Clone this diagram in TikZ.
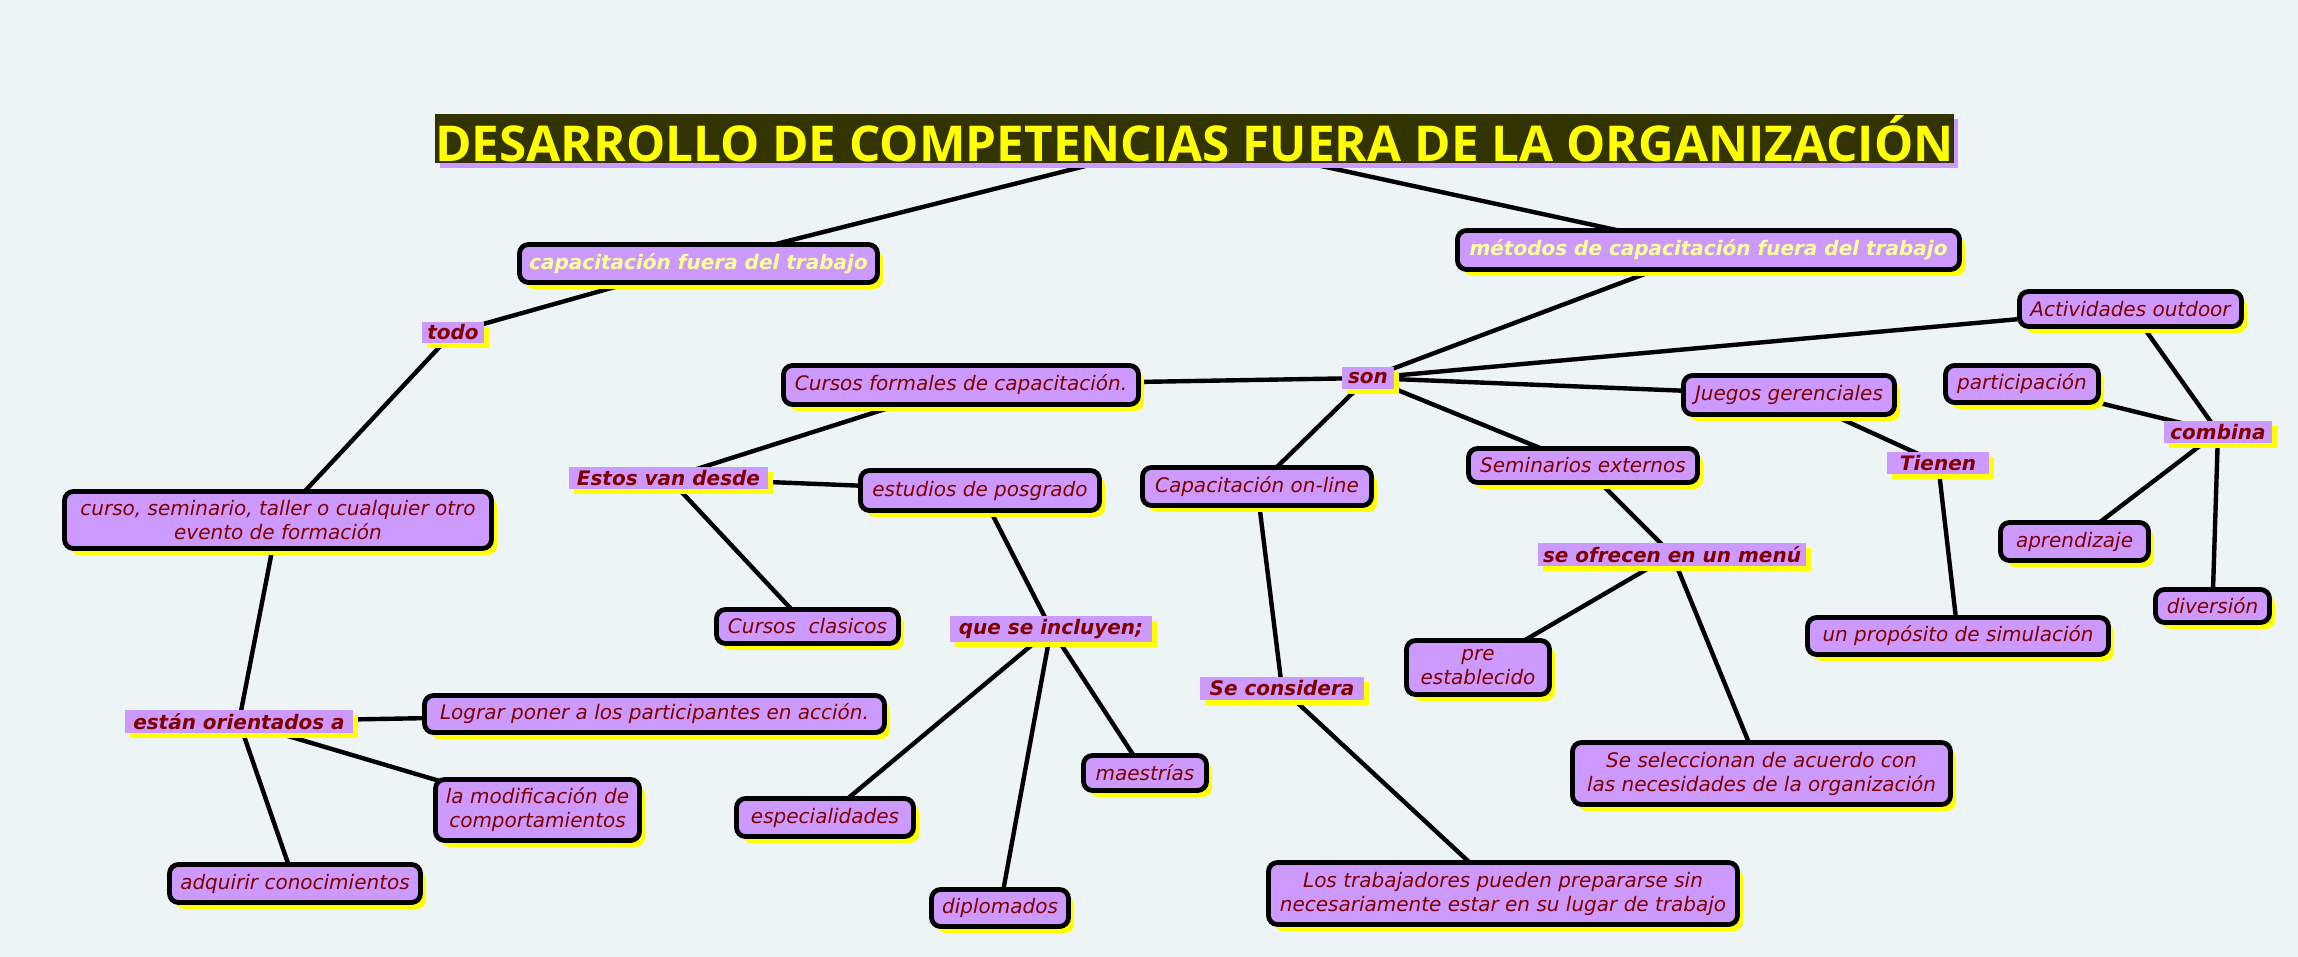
\documentclass[tikz,border=0pt]{standalone}
\usepackage{fontspec}
\setmainfont{DejaVu Sans}
\newfontfamily\titlefont{Open Sans}
\usetikzlibrary{shadows}
\definecolor{bgcol}{RGB}{237,244,246}
\definecolor{boxpurple}{RGB}{204,153,255}
\definecolor{textred}{RGB}{128,0,0}
\definecolor{shyellow}{RGB}{255,255,0}
\definecolor{titlebg}{RGB}{51,51,0}
\definecolor{lightyellow}{RGB}{255,255,153}
\definecolor{titleyellow}{RGB}{255,255,0}
\pgfdeclarelayer{background}
\pgfsetlayers{background,main}
\tikzset{
  box/.style={draw=black, line width=2.4pt, rounded corners=4.5pt, fill=boxpurple,
    text=textred, font=\itshape\fontsize{10}{12}\selectfont, align=center, inner sep=0pt,
    drop shadow={shadow xshift=2.8pt, shadow yshift=-3.2pt, fill=shyellow, opacity=1}},
  hbox/.style={box, text=lightyellow, font=\bfseries\itshape\fontsize{10}{12}\selectfont},
  linkph/.style={fill=boxpurple, text=textred, font=\bfseries\itshape\fontsize{10}{12}\selectfont,
    inner sep=0pt, align=center,
    drop shadow={shadow xshift=2.3pt, shadow yshift=-2.5pt, fill=shyellow, opacity=1}},
  titlebox/.style={fill=titlebg, text=titleyellow, inner sep=0pt,
    font=\titlefont\bfseries\fontsize{24.7}{28}\selectfont,
    drop shadow={shadow xshift=2.2pt, shadow yshift=-2.4pt, fill=boxpurple, opacity=1}},
  conn/.style={line width=2.2pt, draw=black},
}
\begin{document}
\begin{tikzpicture}[x=0.5pt,y=-0.5pt]
\useasboundingbox (0,0) rectangle (2298,957);
\begin{pgfonlayer}{background}
\fill[bgcol] (0,0) rectangle (2298,957);
\end{pgfonlayer}

% title
\node[titlebox, minimum width=756.5pt, minimum height=24.5pt] (title) at (1194.5,138.5)
  {DESARROLLO DE COMPETENCIAS FUERA DE LA ORGANIZACIÓN};

% left branch
\node[hbox, minimum width=179pt, minimum height=19pt] (cap) at (698.5,263.5) {capacitación fuera del trabajo};
\node[linkph, minimum width=31pt, minimum height=10.5pt] (todo) at (453,332.5) {todo};
\node[box, minimum width=213.5pt, minimum height=28.5pt] (curso) at (278,520)
  {curso, seminario, taller o cualquier otro\\evento de formación};
\node[linkph, minimum width=114pt, minimum height=11.5pt] (estan) at (239,721.5) {están orientados a};
\node[box, minimum width=230pt, minimum height=18.5pt] (lograr) at (654.5,714) {Lograr poner a los participantes en acción.};
\node[box, minimum width=102pt, minimum height=30.5pt] (modif) at (537.5,810) {la modificación de\\comportamientos};
\node[box, minimum width=125.5pt, minimum height=19pt] (adq) at (295,883.5) {adquirir conocimientos};

% right branch
\node[hbox, minimum width=251pt, minimum height=19.5pt] (met) at (1708.5,250) {métodos de capacitación fuera del trabajo};
\node[linkph, minimum width=26pt, minimum height=11pt] (son) at (1368,378) {son};
\node[box, minimum width=177.5pt, minimum height=19.5pt] (formales) at (961,385) {Cursos formales de capacitación.};
\node[linkph, minimum width=99.5pt, minimum height=11pt] (estos) at (668.5,478) {Estos van desde};
\node[box, minimum width=119.5pt, minimum height=20pt] (estudios) at (980,490.5) {estudios de posgrado};
\node[box, minimum width=91pt, minimum height=17pt] (clasicos) at (807.5,626.5) {Cursos\ \ clasicos};
\node[linkph, minimum width=101pt, minimum height=13pt] (queinc) at (1051,629) {que se incluyen;};
\node[box, minimum width=88.5pt, minimum height=19pt] (espec) at (825,817.5) {especialidades};
\node[box, minimum width=61.5pt, minimum height=17.5pt] (maest) at (1145,773) {maestrías};
\node[box, minimum width=68.5pt, minimum height=18.5pt] (diplo) at (1000,908) {diplomados};

\node[box, minimum width=114.5pt, minimum height=19pt] (online) at (1257,486.5) {Capacitación on-line};
\node[linkph, minimum width=82pt, minimum height=11.5pt] (consid) at (1282,688.5) {Se considera};
\node[box, minimum width=234.5pt, minimum height=31pt] (trab) at (1503,893.5)
  {Los trabajadores pueden prepararse sin\\necesariamente estar en su lugar de trabajo};

\node[box, minimum width=114.5pt, minimum height=17pt] (semext) at (1583,465.5) {Seminarios externos};
\node[linkph, minimum width=134pt, minimum height=11.5pt] (ofrecen) at (1672,554.5) {se ofrecen en un menú};
\node[box, minimum width=71.5pt, minimum height=27pt] (pre) at (1478,667.5) {pre\\establecido};
\node[box, minimum width=189pt, minimum height=31pt] (selecc) at (1761.5,773.5)
  {Se seleccionan de acuerdo con\\las necesidades de la organización};

\node[box, minimum width=105.5pt, minimum height=19.5pt] (juegos) at (1789,395) {Juegos gerenciales};
\node[linkph, minimum width=51pt, minimum height=11pt] (tienen) at (1938,463) {Tienen};
\node[box, minimum width=150.5pt, minimum height=18.5pt] (prop) at (1958,636) {un propósito de simulación};

\node[box, minimum width=111pt, minimum height=17.5pt] (activ) at (2130.5,309) {Actividades outdoor};
\node[box, minimum width=76.5pt, minimum height=18.5pt] (partic) at (2022,384) {participación};
\node[linkph, minimum width=54pt, minimum height=11pt] (combina) at (2218,432) {combina};
\node[box, minimum width=74pt, minimum height=19pt] (aprend) at (2074.5,541.5) {aprendizaje};
\node[box, minimum width=57pt, minimum height=16.5pt] (divers) at (2212.5,606) {diversión};

% connectors (centre to centre, behind the nodes)
\begin{pgfonlayer}{background}
\draw[conn] (title.center) -- (cap.center);
\draw[conn] (title.center) -- (met.center);
\draw[conn] (cap.center) -- (todo.center);
\draw[conn] (todo.center) -- (curso.center);
\draw[conn] (curso.center) -- (estan.center);
\draw[conn] (estan.center) -- (lograr.center);
\draw[conn] (estan.center) -- (modif.center);
\draw[conn] (estan.center) -- (adq.center);
\draw[conn] (met.center) -- (son.center);
\draw[conn] (formales.center) -- (son.center);
\draw[conn] (formales.center) -- (estos.center);
\draw[conn] (estos.center) -- (estudios.center);
\draw[conn] (estos.center) -- (clasicos.center);
\draw[conn] (estudios.center) -- (queinc.center);
\draw[conn] (queinc.center) -- (espec.center);
\draw[conn] (queinc.center) -- (diplo.center);
\draw[conn] (queinc.center) -- (maest.center);
\draw[conn] (son.center) -- (online.center);
\draw[conn] (online.center) -- (consid.center);
\draw[conn] (consid.center) -- (trab.center);
\draw[conn] (son.center) -- (semext.center);
\draw[conn] (semext.center) -- (ofrecen.center);
\draw[conn] (ofrecen.center) -- (pre.center);
\draw[conn] (ofrecen.center) -- (selecc.center);
\draw[conn] (son.center) -- (juegos.center);
\draw[conn] (juegos.center) -- (tienen.center);
\draw[conn] (tienen.center) -- (prop.center);
\draw[conn] (son.center) -- (activ.center);
\draw[conn] (activ.center) -- (combina.center);
\draw[conn] (partic.center) -- (combina.center);
\draw[conn] (combina.center) -- (aprend.center);
\draw[conn] (combina.center) -- (divers.center);
\end{pgfonlayer}
\end{tikzpicture}
\end{document}
